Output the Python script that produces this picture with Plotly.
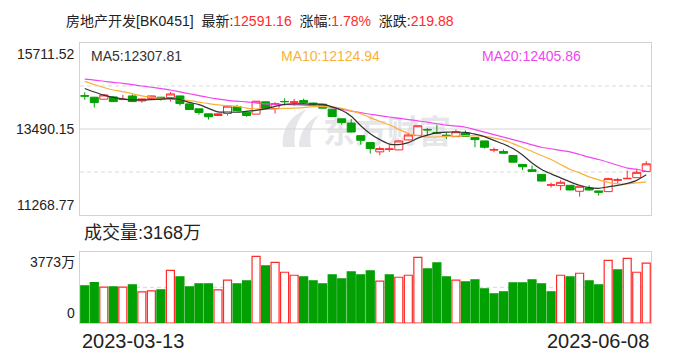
import base64
import pandas as pd
import plotly.graph_objects as go

# ---------------- data ----------------
holidays = ["2023-04-05", "2023-05-01", "2023-05-02", "2023-05-03"]
dates = [d.strftime("%Y-%m-%d") for d in pd.bdate_range("2023-03-13", "2023-06-08")
         if d.strftime("%Y-%m-%d") not in holidays]

opens = [14350, 14311, 14260, 14319, 14250, 14344, 14216, 14275, 14311, 14301,
         14344, 14139, 14011, 13882, 13839, 13890, 14070, 13926, 13875, 14191,
         14018, 14202, 14180, 14224, 14160, 14131, 14003, 13754, 13644, 13318,
         13139, 12900, 12962, 12951, 13208, 13326, 13478, 13400, 13330, 13293,
         13387, 13267, 13182, 12945, 12908, 12806, 12575, 12438, 12318, 12038,
         12028, 12036, 11882, 11967, 11890, 11873, 12165, 12205, 12233, 12395]
highs = [14439, 14320, 14395, 14344, 14370, 14388, 14270, 14350, 14318, 14447,
         14350, 14145, 14020, 13890, 13890, 14085, 14113, 13960, 14215, 14198,
         14183, 14285, 14267, 14275, 14175, 14140, 14010, 13760, 13747, 13325,
         13145, 13036, 13070, 13190, 13395, 13580, 13516, 13600, 13403, 13472,
         13454, 13272, 13188, 13011, 12960, 12812, 12580, 12549, 12322, 12105,
         12164, 12040, 12015, 12036, 11895, 12233, 12225, 12420, 12465, 12659]
lows = [14242, 14044, 14250, 14190, 14245, 14190, 14172, 14268, 14224, 14198,
        14096, 13985, 13857, 13736, 13830, 13839, 13955, 13806, 13870, 13998,
        13890, 14096, 14088, 14131, 14100, 14020, 13805, 13600, 13405, 13088,
        12857, 12813, 12900, 12945, 13200, 13320, 13318, 13360, 13234, 13288,
        13295, 13019, 12985, 12890, 12860, 12628, 12428, 12390, 12140, 11977,
        11908, 11910, 11743, 11900, 11770, 11868, 12087, 12198, 12228, 12390]
closes = [14340, 14172, 14370, 14198, 14258, 14198, 14267, 14344, 14260, 14396,
          14147, 13993, 13916, 13806, 13882, 14080, 13960, 13839, 14208, 14003,
          14147, 14196, 14188, 14165, 14120, 14029, 13813, 13660, 13413, 13198,
          12985, 12985, 12975, 13182, 13336, 13574, 13468, 13385, 13322, 13420,
          13300, 13216, 13019, 12958, 12865, 12634, 12515, 12395, 12146, 12048,
          12113, 11915, 12010, 11915, 11856, 12208, 12178, 12215, 12371, 12591.16]

ma5 = [14537, 14447, 14365, 14306, 14268, 14242, 14242, 14250, 14262, 14273,
       14247, 14178, 14119, 14024, 13934, 13929, 13924, 13947, 13973, 14011,
       14076, 14127, 14139, 14139, 14132, 14127, 14062, 13973, 13819, 13575,
       13370, 13216, 13101, 13088, 13139, 13254, 13331, 13388, 13408, 13413,
       13403, 13357, 13293, 13195, 13101, 12985, 12818, 12613, 12446, 12331,
       12228, 12126, 12036, 11977, 11959, 11997, 12036, 12087, 12164, 12307.81]
ma10 = [14721, 14639, 14562, 14498, 14455, 14401, 14347, 14309, 14280, 14262,
        14247, 14221, 14185, 14144, 14113, 14093, 14075, 14029, 14011, 13998,
        14006, 14021, 14029, 14044, 14067, 14070, 14065, 14024, 13960, 13888,
        13785, 13690, 13600, 13480, 13375, 13318, 13280, 13285, 13298, 13308,
        13321, 13311, 13301, 13259, 13203, 13113, 13011, 12908, 12805, 12703,
        12574, 12446, 12357, 12254, 12177, 12113, 12072, 12075, 12100, 12124.94]
ma20 = [14780, 14755, 14724, 14696, 14670, 14637, 14601, 14568, 14534, 14498,
        14450, 14401, 14352, 14303, 14267, 14231, 14208, 14190, 14162, 14139,
        14131, 14123, 14116, 14106, 14095, 14080, 14044, 14000, 13954, 13911,
        13872, 13836, 13800, 13765, 13734, 13701, 13667, 13626, 13590, 13567,
        13536, 13472, 13408, 13344, 13280, 13216, 13152, 13080, 13018, 12980,
        12939, 12900, 12831, 12762, 12703, 12631, 12554, 12480, 12451, 12405.86]

volume = [1966, 2141, 1895, 1913, 1895, 2018, 1650, 1702, 1755, 2790,
          2439, 1913, 2071, 2071, 1755, 2264, 2071, 2229, 3527, 3019,
          3212, 2685, 2527, 2439, 2229, 2071, 2545, 2334, 2703, 2545,
          2755, 2211, 2545, 2422, 2527, 3475, 2861, 3177, 2439, 2264,
          2176, 2282, 1808, 1544, 1650, 2124, 2124, 2282, 2071, 1650,
          2527, 2439, 2633, 2229, 2018, 3317, 2808, 3422, 2685, 3168]
volume_up = [0, 0, 1, 0, 1, 0, 1, 1, 0, 1,
             0, 0, 0, 0, 1, 1, 0, 0, 1, 0,
             1, 1, 1, 0, 0, 0, 0, 0, 0, 0,
             0, 1, 0, 1, 1, 1, 0, 0, 0, 1,
             0, 0, 0, 0, 0, 0, 0, 0, 0, 0,
             1, 0, 1, 0, 0, 1, 0, 1, 1, 1]

price_ticks = [11268.77, 12379.46, 13490.15, 14600.83, 15711.52]
price_labels = ["11268.77", "13490.15", "15711.52"]
vol_max = 3773
vol_max_label = "3773万"
vol_last_label = "成交量:3168万"
ma_labels = ["MA5:12307.81", "MA10:12124.94", "MA20:12405.86"]
title_name = "房地产开发[BK0451]"
title_latest = "12591.16"
title_pct = "1.78%"
title_chg = "219.88"

# ---------------- style ----------------
RED = "#ff2a2a"
GREEN = "#02a002"
MA5_C = "#333333"
MA10_C = "#f7b23b"
MA20_C = "#f046f0"
BORDER = "#d2d2d8"
FONT = "Liberation Sans, Noto Sans CJK SC, sans-serif"

fig = go.Figure()

# watermark (below traces)
wm_svg = (
    "<svg xmlns='http://www.w3.org/2000/svg' width='180' height='44'>"
    "<path d='M6 40 C 4 22, 14 8, 30 2 C 20 12, 16 24, 18 40 Z' fill='#e6e6ea'/>"
    "<path d='M22 40 C 22 26, 30 14, 42 8 C 34 18, 32 28, 34 40 Z' fill='#e6e6ea'/>"
    "<text x='46' y='36' font-family='Noto Sans CJK SC' font-weight='bold' "
    "font-size='32' fill='#e6e6ea'>东方财富</text></svg>"
)
wm_src = "data:image/svg+xml;base64," + base64.b64encode(wm_svg.encode("utf-8")).decode()

fig.add_trace(go.Candlestick(
    x=dates, open=opens, high=highs, low=lows, close=closes,
    increasing=dict(line=dict(color=RED, width=1), fillcolor="#ffffff"),
    decreasing=dict(line=dict(color=GREEN, width=1), fillcolor=GREEN),
    whiskerwidth=0, xaxis="x", yaxis="y", showlegend=False, hoverinfo="skip",
))
for vals, col in [(ma20, MA20_C), (ma10, MA10_C), (ma5, MA5_C)]:
    fig.add_trace(go.Scatter(
        x=dates, y=vals, mode="lines",
        line=dict(color=col, width=1.2, shape="spline", smoothing=0.8),
        xaxis="x", yaxis="y", showlegend=False, hoverinfo="skip",
    ))

fig.add_trace(go.Bar(
    x=dates, y=volume,
    marker=dict(
        color=["#ffffff" if u else GREEN for u in volume_up],
        line=dict(color=[RED if u else GREEN for u in volume_up], width=1.2),
    ),
    xaxis="x2", yaxis="y2", showlegend=False, hoverinfo="skip",
))

shapes = []
for v in price_ticks[1:-1]:
    solid = (v == price_ticks[2])
    shapes.append(dict(type="line", xref="x domain", yref="y", x0=0, x1=1, y0=v, y1=v,
                       line=dict(color="#d6d6d6" if solid else "#d9d9d9", width=1,
                                 dash="solid" if solid else "4px,3px"),
                       layer="below"))
shapes.append(dict(type="line", xref="x2 domain", yref="y2", x0=0, x1=1,
                   y0=vol_max / 2, y1=vol_max / 2,
                   line=dict(color="#d9d9d9", width=1, dash="4px,3px"), layer="below"))

ann = []
lab_font = dict(family=FONT, size=14, color="#222222")
ann.append(dict(xref="paper", yref="y", x=-0.006, y=price_ticks[-1], xanchor="right",
                yanchor="top", yshift=-1, text=price_labels[2], showarrow=False, font=lab_font))
ann.append(dict(xref="paper", yref="y", x=-0.006, y=price_ticks[2], xanchor="right",
                yanchor="middle", text=price_labels[1], showarrow=False, font=lab_font))
ann.append(dict(xref="paper", yref="y", x=-0.006, y=price_ticks[0], xanchor="right",
                yanchor="bottom", text=price_labels[0], showarrow=False, font=lab_font))
ann.append(dict(xref="paper", yref="y2", x=-0.006, y=vol_max, xanchor="right",
                yanchor="top", text=vol_max_label, showarrow=False, font=lab_font))
ann.append(dict(xref="paper", yref="y2", x=-0.006, y=0, xanchor="right",
                yanchor="bottom", text="0", showarrow=False, font=lab_font))
for txt, xp, col in zip(ma_labels, [0.016, 0.348, 0.700], [MA5_C, MA10_C, MA20_C]):
    ann.append(dict(xref="paper", yref="paper", x=xp, y=0.9536, xanchor="left",
                    yanchor="middle", text=txt, showarrow=False,
                    font=dict(family=FONT, size=14, color=col)))
ann.append(dict(xref="paper", yref="paper", x=0.004, y=0.3214, xanchor="left",
                yanchor="middle", text=vol_last_label, showarrow=False,
                font=dict(family=FONT, size=18, color="#222222")))
ann.append(dict(xref="paper", yref="paper", x=0.0, y=-0.064, xanchor="left",
                yanchor="middle", text=dates[0], showarrow=False,
                font=dict(family=FONT, size=20, color="#222222")))
ann.append(dict(xref="paper", yref="paper", x=1.0, y=-0.064, xanchor="right",
                yanchor="middle", text=dates[-1], showarrow=False,
                font=dict(family=FONT, size=20, color="#222222")))

title_html = (f"{title_name}  最新:<span style='color:{RED}'>{title_latest}</span>"
              f"  涨幅:<span style='color:{RED}'>{title_pct}</span>"
              f"  涨跌:<span style='color:{RED}'>{title_chg}</span>")

axis_common = dict(showline=True, linecolor=BORDER, linewidth=1, mirror=True,
                   showgrid=False, zeroline=False, ticks="", showticklabels=False,
                   fixedrange=True)

fig.update_layout(
    width=688, height=360,
    margin=dict(l=80, r=37, t=43, b=37),
    paper_bgcolor="#ffffff", plot_bgcolor="#ffffff",
    title=dict(text=title_html, x=66 / 688, xanchor="left", xref="container",
               y=1 - 21.5 / 360, yanchor="middle", yref="container",
               font=dict(family=FONT, size=14, color="#222222")),
    xaxis=dict(domain=[0, 1], anchor="y", type="category", range=[-0.5, len(dates) - 0.5],
               rangeslider=dict(visible=False), **axis_common),
    yaxis=dict(domain=[0.3857, 1], anchor="x", range=[price_ticks[0], price_ticks[-1]],
               **axis_common),
    xaxis2=dict(domain=[0, 1], anchor="y2", type="category", range=[-0.5, len(dates) - 0.5],
                matches="x", **axis_common),
    yaxis2=dict(domain=[0, 0.2546], anchor="x2", range=[0, vol_max], **axis_common),
    bargap=0.16, boxgap=0.16, boxgroupgap=0,
    shapes=shapes, annotations=ann,
    images=[dict(source=wm_src, xref="paper", yref="paper", x=0.345, y=0.771,
                 sizex=0.315, sizey=0.157, xanchor="left", yanchor="top",
                 sizing="stretch", layer="below", opacity=1)],
    font=dict(family=FONT),
)

fig.write_html("out.html", config={"displayModeBar": False},
               post_script="document.body.style.margin='0px';document.body.style.padding='0px';")
